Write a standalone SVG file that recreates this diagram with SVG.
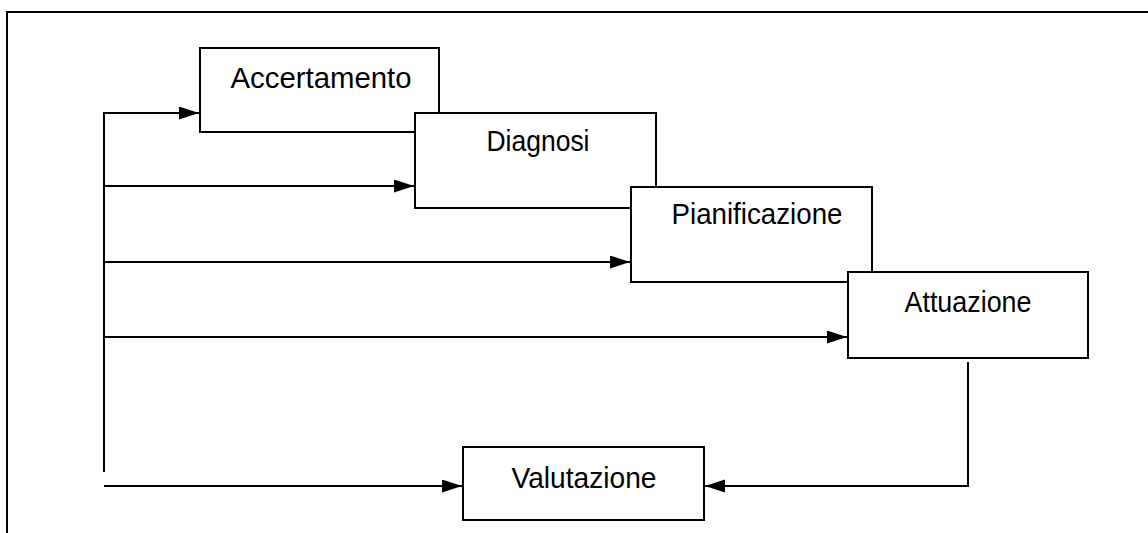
<svg xmlns="http://www.w3.org/2000/svg" width="1148" height="533" viewBox="0 0 1148 533">
<style>
.box{fill:#fff;stroke:#000;stroke-width:2}
.lbl{font-family:"Liberation Sans",Arial,sans-serif;font-size:29px;fill:#000;text-anchor:middle}
.ln{fill:none;stroke:#000;stroke-width:2}
</style>
<defs>
<marker id="ah" markerUnits="userSpaceOnUse" markerWidth="21" markerHeight="14" refX="20" refY="6.5" orient="auto">
<path d="M0,0 L20,6.5 L0,13 Z" fill="#000"/>
</marker>
</defs>
<rect x="0" y="0" width="1148" height="533" fill="#fff"/>
<path class="ln" d="M7,540 V12 H1150"/>
<g id="connectors">
<path class="ln" d="M104,472 V113 H199" marker-end="url(#ah)"/>
<path class="ln" d="M104,186 H414" marker-end="url(#ah)"/>
<path class="ln" d="M104,262 H630" marker-end="url(#ah)"/>
<path class="ln" d="M104,337 H847" marker-end="url(#ah)"/>
<path class="ln" d="M104,486 H462" marker-end="url(#ah)"/>
<path class="ln" d="M968,362 V486 H705" marker-end="url(#ah)"/>
</g>
<g id="accertamento">
<rect class="box" x="200" y="48" width="239" height="84"/>
<text class="lbl" x="321" y="88" textLength="181" lengthAdjust="spacingAndGlyphs">Accertamento</text>
</g>
<g id="diagnosi">
<rect class="box" x="415" y="113" width="241" height="95"/>
<text class="lbl" x="538" y="151" textLength="103" lengthAdjust="spacingAndGlyphs">Diagnosi</text>
</g>
<g id="pianificazione">
<rect class="box" x="631" y="187" width="241" height="95"/>
<text class="lbl" x="757" y="224" textLength="171" lengthAdjust="spacingAndGlyphs">Pianificazione</text>
</g>
<g id="attuazione">
<rect class="box" x="848" y="272" width="240" height="86"/>
<text class="lbl" x="968" y="312" textLength="127" lengthAdjust="spacingAndGlyphs">Attuazione</text>
</g>
<g id="valutazione">
<rect class="box" x="463" y="447" width="241" height="73"/>
<text class="lbl" x="584" y="488" textLength="145" lengthAdjust="spacingAndGlyphs">Valutazione</text>
</g>
</svg>
